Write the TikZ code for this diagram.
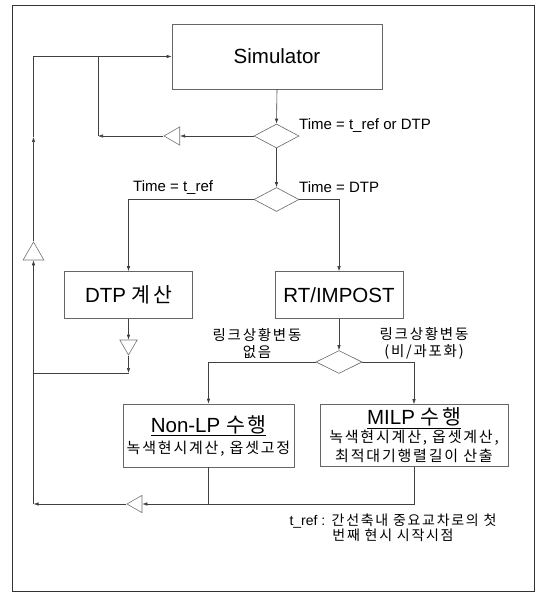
\documentclass[tikz,border=0pt]{standalone}
\usepackage{fontspec}
\setmainfont{Liberation Sans}
\newfontfamily\kr[LetterSpace=12]{Noto Sans CJK KR}
\usetikzlibrary{arrows.meta,shapes.geometric}

\begin{document}
\begin{tikzpicture}[
  x=1pt, y=-1pt,
  wire/.style={draw=black!75, line width=0.6pt},
  flow/.style={wire, -{Latex[length=5pt,width=3.5pt]}},
  blk/.style={draw=black!60, line width=0.6pt, inner sep=0pt, align=center, font=\fontsize{20.5}{18}\selectfont},
  dec/.style={diamond, draw=black!60, line width=0.6pt, minimum width=45pt, minimum height=24pt, inner sep=0pt},
  amp/.style={regular polygon, regular polygon sides=3, draw=black!55, line width=0.6pt, inner sep=0pt},
  tag/.style={font=\fontsize{15}{17}\selectfont, inner sep=0pt},
  ktag/.style={font=\kr\fontsize{14.5}{17}\selectfont, inner sep=0pt, align=center}
]
\useasboundingbox (0,0) rectangle (537,593);
\draw[black!80, line width=0.8pt] (12,5) rectangle (534,591);
% blocks
\node[blk, minimum width=210pt, minimum height=65pt] (sim) at (277,56.5) {Simulator};
\node[blk, minimum width=128pt, minimum height=47pt] (dtp) at (128.5,295) {DTP {\kr 계산}};
\node[blk, minimum width=128pt, minimum height=47pt] (rt) at (339,295) {RT/IMPOST};
\node[blk, minimum width=171pt, minimum height=63pt] (nonlp) at (208.5,435.5)
  {\underline{Non-LP {\kr 수행}}\\[3pt]{\kr\fontsize{15}{18}\selectfont 녹색현시계산, 옵셋고정}};
\node[blk, minimum width=188pt, minimum height=62pt] (milp) at (414,435.5)
  {\underline{MILP {\kr 수행}}\\{\kr\fontsize{15}{18}\selectfont 녹색현시계산, 옵셋계산,}\\[1pt]{\kr\fontsize{15}{18}\selectfont 최적대기행렬길이 산출}};
% decisions
\node[dec] (d1) at (276.5,136) {};
\node[dec] (d2) at (276.5,199.5) {};
\node[dec, minimum width=46pt, minimum height=23pt] (d3) at (339,362) {};
% gains
\node[amp, minimum size=21pt, regular polygon rotate=90] (tri1) at (174.5,136) {};
\node[amp, minimum size=24pt] (tri2) at (33.5,254) {};
\node[amp, minimum size=20pt, regular polygon rotate=180] (tri3) at (128.5,345) {};
\node[amp, minimum size=20pt, regular polygon rotate=90] (tri4) at (137,504) {};
% labels
\node[tag, anchor=west] (l1) at (299,126) {Time = t\_ref or DTP};
\node[tag, anchor=west] (l2) at (133,188) {Time = t\_ref};
\node[tag, anchor=west] (l3) at (299,187) {Time = DTP};
\node[ktag] (l4) at (257,343) {링크상황변동\\없음};
\node[ktag] (l5) at (424,343) {링크상황변동\\(비/과포화)};
\node[ktag, font=\kr\fontsize{14}{15}\selectfont] (note) at (393,528)
  {{\rmfamily t\_ref :} 간선축내 중요교차로의 첫\\번째 현시 시작시점};
% junctions
\coordinate (j1) at (98,136);
\coordinate (j2) at (128.5,373);
\coordinate (j4) at (33.5,504);
\coordinate (j5) at (33.5,137);
% connectors
\draw[flow] (sim.south) -- (d1.north);
\draw[flow] (d1.south) -- (d2.north);
\draw[flow] (d1.west) -- (tri1.side 2);
\draw[flow] (tri1.corner 1) -- (j1);
\draw[wire] (j1) -- (j1 |- sim.west);
\draw[flow] (d2.west) -| (dtp.north);
\draw[flow] (d2.east) -| (rt.north);
\draw[flow] (dtp.south) -- (tri3.side 2);
\draw[flow] (tri3.corner 1) -- (j2);
\draw[wire] (j2) -- (j2 -| j4);
\draw[flow] (rt.south) -- (d3.north);
\draw[flow] (d3.west) -| (nonlp.north);
\draw[flow] (d3.east) -| (milp.north);
\draw[flow] (milp.south) |- (tri4.side 2);
\draw[wire] (nonlp.south) -- (nonlp.south |- tri4.side 2);
\draw[flow] (tri4.corner 1) -- (j4);
\draw[flow] (j4) -- (tri2.side 2);
\draw[flow] (tri2.corner 1) -- (j5);
\draw[flow] (j5) |- (sim.west);
\end{tikzpicture}
\end{document}
